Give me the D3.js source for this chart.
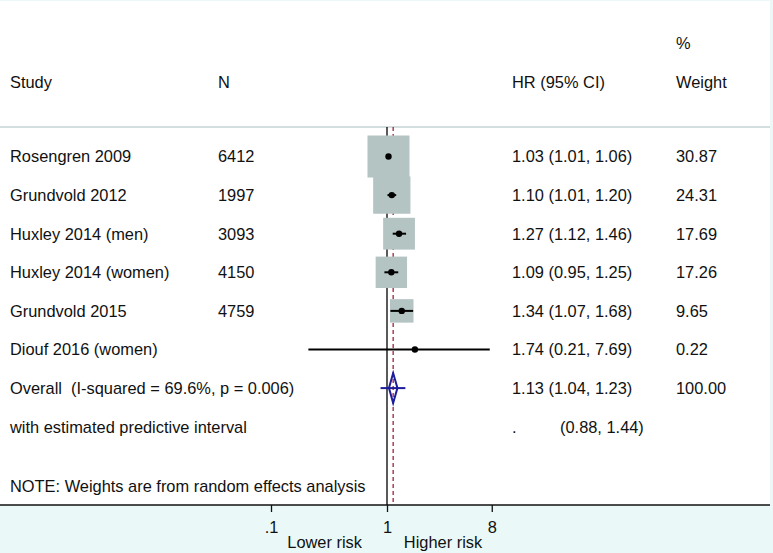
<!DOCTYPE html>
<html>
<head>
<meta charset="utf-8">
<script src="https://cdn.jsdelivr.net/npm/d3@7"></script>
<style>
  body { margin: 0; background: #eaf9f7; }
  svg { display: block; }
  text { font-family: "Liberation Sans", Arial, sans-serif; font-size: 16.4px; fill: #111; white-space: pre; }
</style>
</head>
<body>
<div id="chart"></div>
<script>
// study rows
var studies = ["Rosengren 2009", "Grundvold 2012", "Huxley 2014 (men)", "Huxley 2014 (women)", "Grundvold 2015", "Diouf 2016 (women)"];
var nValues = ["6412", "1997", "3093", "4150", "4759", ""];
var hr = [1.03, 1.10, 1.27, 1.09, 1.34, 1.74];
var lower = [1.01, 1.01, 1.12, 0.95, 1.07, 0.21];
var upper = [1.06, 1.20, 1.46, 1.25, 1.68, 7.69];
var weights = [30.87, 24.31, 17.69, 17.26, 9.65, 0.22];
var ciLabels = ["1.03 (1.01, 1.06)", "1.10 (1.01, 1.20)", "1.27 (1.12, 1.46)", "1.09 (0.95, 1.25)", "1.34 (1.07, 1.68)", "1.74 (0.21, 7.69)"];
var weightLabels = ["30.87", "24.31", "17.69", "17.26", "9.65", "0.22"];

// overall estimate
var overall = { hr: 1.13, lo: 1.04, hi: 1.23, piLo: 0.88, piHi: 1.44 };
var overallLabel = "Overall  (I-squared = 69.6%, p = 0.006)";
var overallCI = "1.13 (1.04, 1.23)";
var overallWeight = "100.00";
var piLabel = "with estimated predictive interval";
var piCI = "(0.88, 1.44)";
var noteLabel = "NOTE: Weights are from random effects analysis";

var tickValues = [0.1, 1, 8];
var tickLabels = [".1", "1", "8"];

var W = 773, H = 553;
var svg = d3.select("#chart").append("svg").attr("width", W).attr("height", H);

// white plot area
svg.append("rect").attr("x", 0).attr("y", 1).attr("width", 770).attr("height", 504).attr("fill", "#fff");

var x = d3.scaleLog().domain([0.1, 1]).range([271, 387]);
var y = d3.scaleLinear().domain([0, 1]).range([156.5, 195.1]);

var colStudy = 10, colN = 218, colCI = 512, colW = 676;

function label(txt, xx, row, anchor) {
    svg.append("text").attr("x", xx).attr("y", y(row)).attr("dy", "0.36em")
        .attr("xml:space", "preserve")
        .attr("text-anchor", anchor || "start").text(txt);
}

// header
label("%", colW, -2.95);
label("Study", colStudy, -1.93);
label("N", colN, -1.93);
label("HR (95% CI)", colCI, -1.93);
label("Weight", colW, -1.93);

// separator
svg.append("line").attr("x1", 0).attr("x2", 770).attr("y1", 127).attr("y2", 127)
    .attr("stroke", "#c5d5d5").attr("stroke-width", 1.5);

// null line at 1
svg.append("line").attr("x1", x(1)).attr("x2", x(1)).attr("y1", 127).attr("y2", 505)
    .attr("stroke", "#000").attr("stroke-width", 1.3);

// overall dashed line
svg.append("line").attr("x1", x(overall.hr)).attr("x2", x(overall.hr)).attr("y1", 127).attr("y2", 505)
    .attr("stroke", "#a3203a").attr("stroke-width", 1.3).attr("stroke-dasharray", "4,3");

// boxes (drawn over the reference lines)
var boxScale = 7.56;
svg.selectAll("rect.box").data(hr).enter().append("rect").attr("class", "box")
    .attr("x", function(d, i) { return x(d) - boxScale * Math.sqrt(weights[i]) / 2; })
    .attr("y", function(d, i) { return y(i) - boxScale * Math.sqrt(weights[i]) / 2; })
    .attr("width", function(d, i) { return boxScale * Math.sqrt(weights[i]); })
    .attr("height", function(d, i) { return boxScale * Math.sqrt(weights[i]); })
    .attr("fill", "#b4c4c3");

// CI lines
svg.selectAll("line.ci").data(hr).enter().append("line").attr("class", "ci")
    .attr("x1", function(d, i) { return x(lower[i]); })
    .attr("x2", function(d, i) { return x(upper[i]); })
    .attr("y1", function(d, i) { return y(i); })
    .attr("y2", function(d, i) { return y(i); })
    .attr("stroke", "#000").attr("stroke-width", 2);

// point estimates
svg.selectAll("circle.pt").data(hr).enter().append("circle").attr("class", "pt")
    .attr("cx", function(d) { return x(d); })
    .attr("cy", function(d, i) { return y(i); })
    .attr("r", 3.2)
    .attr("fill", "#000");

// study labels
studies.forEach(function(s, i) {
    label(s, colStudy, i);
    label(nValues[i], colN, i);
    label(ciLabels[i], colCI, i);
    label(weightLabels[i], colW, i);
});

// overall diamond + predictive interval
var oy = y(6);
svg.append("line").attr("x1", x(overall.piLo)).attr("x2", x(overall.piHi)).attr("y1", oy).attr("y2", oy)
    .attr("stroke", "#1c1c9c").attr("stroke-width", 2);
svg.append("path")
    .attr("d", "M" + x(overall.lo) + "," + oy + "L" + x(overall.hr) + "," + (oy - 15) +
        "L" + x(overall.hi) + "," + oy + "L" + x(overall.hr) + "," + (oy + 15) + "Z")
    .attr("fill", "none").attr("stroke", "#1c1c9c").attr("stroke-width", 2);

label(overallLabel, colStudy, 6);
label(overallCI, colCI, 6);
label(overallWeight, colW, 6);
label(piLabel, colStudy, 7);
label(".", colCI, 7);
label(piCI, 560, 7);
label(noteLabel, colStudy, 8.53);

// axis
svg.append("line").attr("x1", 0).attr("x2", 770).attr("y1", 505).attr("y2", 505)
    .attr("stroke", "#111").attr("stroke-width", 1.6);
var axis = d3.axisBottom(x).tickValues(tickValues)
    .tickFormat(function(d, i) { return tickLabels[i]; }).tickSize(7).tickPadding(9);
var gAxis = svg.append("g").attr("transform", "translate(0,505)").call(axis);
gAxis.select(".domain").remove();
gAxis.selectAll("line").attr("stroke", "#111").attr("stroke-width", 1.3);
gAxis.selectAll("text").attr("font-size", "16.4px").attr("fill", "#111")
    .attr("font-family", "Liberation Sans, Arial, sans-serif");

svg.append("text").attr("x", x(0.29)).attr("y", 548).attr("text-anchor", "middle").text("Lower risk");
svg.append("text").attr("x", x(3.04)).attr("y", 548).attr("text-anchor", "middle").text("Higher risk");
</script>
</body>
</html>
